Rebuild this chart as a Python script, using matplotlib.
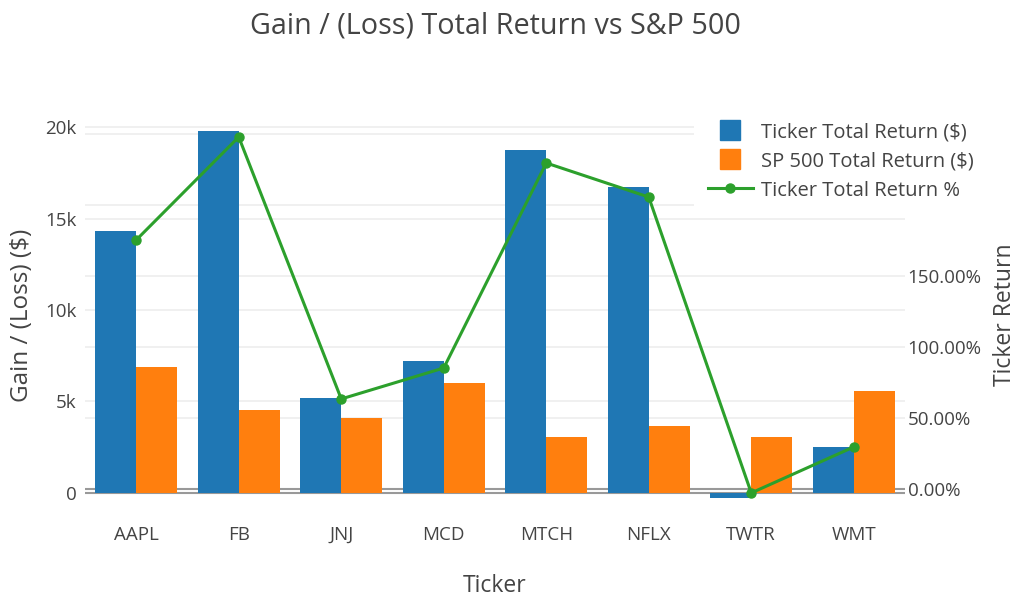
import matplotlib
matplotlib.use("Agg")
import matplotlib.pyplot as plt
import numpy as np
from matplotlib.lines import Line2D

tickers = ["AAPL", "FB", "JNJ", "MCD", "MTCH", "NFLX", "TWTR", "WMT"]
ticker_total_return = [14300, 19800, 5190, 7210, 18750, 16720, -250, 2510]
sp500_total_return = [6880, 4540, 4100, 6010, 3060, 3660, 3060, 5570]
ticker_return_pct = [175.4, 247.9, 63.4, 85.2, 229.6, 205.6, -2.8, 29.6]

left_ticks = [0, 5000, 10000, 15000, 20000]
left_ticklabels = ["0", "5k", "10k", "15k", "20k"]
right_ticks = [0, 50, 100, 150, 200, 250]
right_ticklabels = ["0.00%", "50.00%", "100.00%", "150.00%", "200.00%", "250.00%"]

BLUE = "#1f77b4"
ORANGE = "#ff7f0e"
GREEN = "#2ca02c"
TXT = "#444444"
GRID = "#eeeeee"

plt.rcParams['font.family'] = ['Open Sans', 'DejaVu Sans']

fig = plt.figure(figsize=(10.17, 5.97), dpi=100)
rect = [85/1017, 1-505/597, 820/1017, 390/597]

ax2 = fig.add_axes(rect)
ax2.set_zorder(0)
ax = fig.add_axes(rect, sharex=ax2)
ax.set_zorder(1)
ax.patch.set_visible(False)
ax3 = fig.add_axes(rect, sharex=ax2, sharey=ax2)
ax3.set_zorder(2)
ax3.patch.set_visible(False)

x = np.arange(len(tickers))
w = 0.4
ax.bar(x - w/2, ticker_total_return, width=w, color=BLUE, zorder=3, linewidth=0)
ax.bar(x + w/2, sp500_total_return, width=w, color=ORANGE, zorder=3, linewidth=0)
ax3.plot(x, ticker_return_pct, color=GREEN, linewidth=2.2, marker="o", markersize=6.5, zorder=4)

ax.set_xlim(-0.5, len(tickers) - 0.5)
ax.set_ylim(-656, 20656)
ax2.set_ylim(-11.3, 263.4)

FS = 13.5
# left axis
ax.set_yticks(left_ticks)
ax.set_yticklabels(left_ticklabels)
ax.yaxis.grid(True, color=GRID, linewidth=1.2)
ax.set_axisbelow(True)
ax.axhline(0, color="#999999", linewidth=1.5, zorder=2)
ax.tick_params(axis="y", length=0, labelsize=FS, labelcolor=TXT, pad=6)
ax.tick_params(axis="x", length=0, labelbottom=False)

# right axis
ax2.yaxis.tick_right()
ax2.set_yticks(right_ticks)
ax2.set_yticklabels(right_ticklabels)
ax2.yaxis.grid(True, color=GRID, linewidth=1.2)
ax2.axhline(0, color="#999999", linewidth=1.5, zorder=2)
ax2.tick_params(axis="y", length=0, labelsize=FS, labelcolor=TXT, pad=2)
ax2.set_xticks(x)
ax2.set_xticklabels(tickers)
ax2.tick_params(axis="x", length=0, labelsize=FS, labelcolor=TXT, pad=15)

ax3.tick_params(left=False, right=False, bottom=False, labelleft=False,
                labelright=False, labelbottom=False)

for a in (ax, ax2, ax3):
    for s in a.spines.values():
        s.set_visible(False)

fig.text(22/1017, 1-315/597, "Gain / (Loss) ($)", rotation=90, ha="center", va="center",
         fontsize=17.5, color=TXT)
fig.text(1005/1017, 1-315/597, "Ticker Return", rotation=90, ha="center", va="center",
         fontsize=16.5, color=TXT)
fig.text(495/1017, 1-586/597, "Ticker", ha="center", va="center",
         fontsize=16.5, color=TXT)

LFS = 14.5
handles = [Line2D([0], [0], color=BLUE, marker="s", markersize=14, linestyle="none"),
           Line2D([0], [0], color=ORANGE, marker="s", markersize=14, linestyle="none"),
           Line2D([0], [0], color=GREEN, linewidth=2.2, marker="o", markersize=6.5)]
labels = ["Ticker Total Return ($)", "SP 500 Total Return ($)", "Ticker Total Return %"]
leg = ax3.legend(handles, labels, loc="upper left", bbox_to_anchor=(694/1017, 1-108/597),
                 bbox_transform=fig.transFigure, frameon=True, fontsize=LFS,
                 labelcolor=TXT, handlelength=2.25, handleheight=1.0,
                 handletextpad=0.4, labelspacing=0.42, borderpad=0.68,
                 borderaxespad=0, markerscale=1.0)
leg.get_frame().set_facecolor("white")
leg.get_frame().set_edgecolor("none")
leg.get_frame().set_alpha(1.0)
leg.get_frame().set_boxstyle("square", pad=0)
leg.set_zorder(10)

fig.text(495/1017, 1-26/597, "Gain / (Loss) Total Return vs S&P 500",
         ha="center", va="center", fontsize=20.7, color=TXT)

fig.savefig("out.png", dpi=100, facecolor="white")
